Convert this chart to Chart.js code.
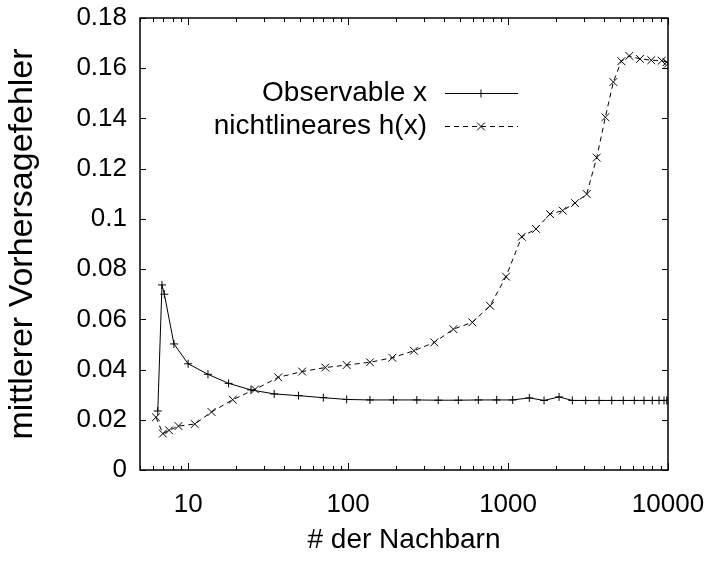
<!DOCTYPE html>
<html>
<head>
<meta charset="utf-8">
<script src="https://cdn.jsdelivr.net/npm/chart.js@4"></script>
<style>
  body { margin: 0; background: #fff; }
  #wrap { width: 707px; height: 570px; }
</style>
</head>
<body>
<div id="wrap"><canvas id="fehler-chart"></canvas></div>
<script>
// Anzahl Nachbarn und mittlerer Vorhersagefehler, Observable x
const obsN = [6.46, 6.86, 7.1, 8.15, 10, 13.3, 17.9, 24.7, 34.5, 49, 70, 98, 137, 192, 269, 366, 489, 652, 849, 1069,
  1358, 1679, 2084, 2523, 3059, 3707, 4448, 5254, 6155, 7079, 7976, 8790, 9441, 9817, 10000];
const obsErr = [0.0235, 0.0737, 0.0700, 0.0502, 0.0423, 0.0381, 0.0345, 0.0319, 0.0303, 0.0296, 0.0288, 0.0281, 0.0279,
  0.0279, 0.0279, 0.0278, 0.0278, 0.0279, 0.0279, 0.0279, 0.0287, 0.0277, 0.0291, 0.0277, 0.0277, 0.0277, 0.0277,
  0.0277, 0.0277, 0.0277, 0.0277, 0.0277, 0.0277, 0.0277, 0.0277];

// nichtlineares h(x)
const nlN = [6.29, 6.95, 7.6, 8.7, 11, 14, 19, 26.2, 36.6, 51.6, 72, 98, 137, 189, 258, 346, 455, 598, 772, 971,
  1218, 1496, 1830, 2197, 2624, 3103, 3585, 4058, 4552, 5108, 5731, 6683, 7862, 9133, 9800, 10000];
const nlErr = [0.0210, 0.0145, 0.0158, 0.0175, 0.0183, 0.0231, 0.0280, 0.0321, 0.0369, 0.0392, 0.0408, 0.0418, 0.0429,
  0.0447, 0.0475, 0.0508, 0.0561, 0.0588, 0.0654, 0.0770, 0.0929, 0.0960, 0.1019, 0.1033, 0.1063, 0.1099, 0.1244,
  0.1405, 0.1545, 0.1628, 0.1649, 0.1637, 0.1632, 0.1630, 0.1624, 0.1618];

const xTickValues = [10, 100, 1000, 10000];
const yTickValues = [0, 0.02, 0.04, 0.06, 0.08, 0.1, 0.12, 0.14, 0.16, 0.18];

const FONT = '"Liberation Sans", Arial, sans-serif';

const toPoints = (xs, ys) => xs.map((x, i) => ({ x: x, y: ys[i] }));

// gnuplot style frame: full box with inward ticks on all sides
const frame = {
  id: 'frame',
  afterDatasetsDraw(chart) {
    const ctx = chart.ctx;
    const a = chart.chartArea;
    const xs = chart.scales.x;
    const ys = chart.scales.y;
    ctx.save();
    ctx.strokeStyle = '#000';
    ctx.lineWidth = 1;
    ctx.beginPath();
    for (let d = 1; d <= 10000; d *= 10) {
      for (let m = 1; m <= 9; m++) {
        const v = d * m;
        if (v < 5 || v > 10000) continue;
        const px = Math.round(xs.getPixelForValue(v)) + 0.5;
        const len = m === 1 ? 7 : 4;
        ctx.moveTo(px, a.bottom); ctx.lineTo(px, a.bottom - len);
        ctx.moveTo(px, a.top); ctx.lineTo(px, a.top + len);
      }
    }
    yTickValues.forEach((v) => {
      const py = Math.round(ys.getPixelForValue(v)) + 0.5;
      ctx.moveTo(a.left, py); ctx.lineTo(a.left + 6, py);
      ctx.moveTo(a.right, py); ctx.lineTo(a.right - 6, py);
    });
    ctx.stroke();
    ctx.lineWidth = 1.5;
    ctx.strokeRect(a.left, a.top, a.right - a.left, a.bottom - a.top);
    ctx.restore();
  }
};

// key in the upper middle: text right aligned, line sample with marker to the right
const key = {
  id: 'key',
  afterDraw(chart) {
    const ctx = chart.ctx;
    const rows = [93, 126];
    ctx.save();
    ctx.font = '28px ' + FONT;
    ctx.fillStyle = '#000';
    ctx.textAlign = 'right';
    ctx.textBaseline = 'middle';
    chart.data.datasets.forEach((ds, i) => {
      const y = rows[i];
      ctx.fillText(ds.label, 427, y);
      ctx.strokeStyle = '#000';
      ctx.lineWidth = 1;
      ctx.setLineDash(ds.borderDash || []);
      ctx.beginPath();
      ctx.moveTo(445, y + 0.5);
      ctx.lineTo(518, y + 0.5);
      ctx.stroke();
      ctx.setLineDash([]);
      Chart.helpers.drawPoint(ctx, { pointStyle: ds.pointStyle, radius: ds.pointRadius, rotation: 0, borderWidth: 1 }, 481, y + 0.5);
    });
    ctx.restore();
  }
};

new Chart(document.getElementById('fehler-chart'), {
  type: 'line',
  data: {
    datasets: [
      {
        label: 'Observable x',
        data: toPoints(obsN, obsErr),
        borderColor: '#000',
        borderWidth: 1,
        pointStyle: 'cross',
        pointRadius: 4,
        pointBorderColor: '#000',
        pointBorderWidth: 1,
        tension: 0,
        fill: false
      },
      {
        label: 'nichtlineares h(x)',
        data: toPoints(nlN, nlErr),
        borderColor: '#000',
        borderWidth: 1,
        borderDash: [5, 4],
        pointStyle: 'crossRot',
        pointRadius: 5.5,
        pointBorderColor: '#000',
        pointBorderWidth: 1,
        tension: 0,
        fill: false
      }
    ]
  },
  options: {
    responsive: true,
    maintainAspectRatio: false,
    animation: false,
    layout: { padding: { left: 0, right: 39, top: 18, bottom: 0 } },
    plugins: {
      legend: { display: false },
      tooltip: { enabled: false }
    },
    scales: {
      x: {
        type: 'logarithmic',
        min: 5,
        max: 10000,
        afterBuildTicks: (scale) => { scale.ticks = xTickValues.map((v) => ({ value: v })); },
        afterFit: (scale) => { scale.height = 100; scale.paddingLeft = 0; scale.paddingRight = 0; },
        grid: { display: false, drawTicks: false },
        border: { display: false },
        ticks: {
          color: '#000',
          font: { family: FONT, size: 26 },
          padding: 19,
          maxRotation: 0,
          callback: (v) => String(v)
        },
        title: {
          display: true,
          text: '# der Nachbarn',
          color: '#000',
          font: { family: FONT, size: 28 },
          padding: { top: 0, bottom: 13 }
        }
      },
      y: {
        type: 'linear',
        min: 0,
        max: 0.18,
        afterBuildTicks: (scale) => { scale.ticks = yTickValues.map((v) => ({ value: v })); },
        afterFit: (scale) => { scale.width = 140; scale.paddingTop = 0; scale.paddingBottom = 0; },
        grid: { display: false, drawTicks: false },
        border: { display: false },
        ticks: {
          color: '#000',
          font: { family: FONT, size: 26 },
          padding: 13,
          callback: (v) => String(+v.toFixed(2))
        },
        title: {
          display: true,
          text: 'mittlerer Vorhersagefehler',
          color: '#000',
          font: { family: FONT, size: 34 },
          padding: { top: 2, bottom: 0 }
        }
      }
    }
  },
  plugins: [frame, key]
});
</script>
</body>
</html>
